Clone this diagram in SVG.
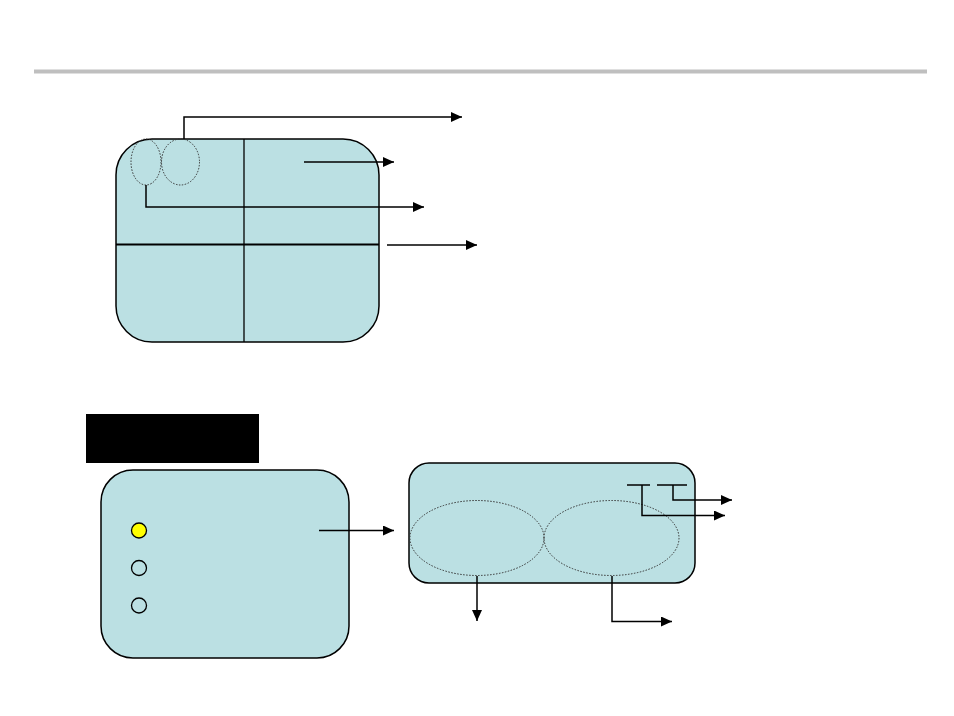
<svg xmlns="http://www.w3.org/2000/svg" width="954" height="716" viewBox="0 0 954 716">
<style>
.box{fill:#bbe0e3;stroke:#000;stroke-width:1.5}
.ell{fill:none;stroke:#333;stroke-width:1;stroke-dasharray:1.5 1.5}
.con{fill:none;stroke:#000;stroke-width:1.5}
.dot{stroke:#000;stroke-width:1.3}
</style>
<defs>
<marker id="ah" markerUnits="userSpaceOnUse" markerWidth="12" markerHeight="10" viewBox="0 0 12 10" refX="11" refY="5" orient="auto">
<path d="M0,0 L11,5 L0,10 Z" fill="#000"/>
</marker>
</defs>
<rect width="954" height="716" fill="#fff"/>
<line x1="34" y1="71.5" x2="927" y2="71.5" stroke="#bfbfbf" stroke-width="4"/>
<g id="screen-top">
<rect class="box" x="116" y="139" width="263" height="203" rx="36" ry="36"/>
<line x1="244" y1="139" x2="244" y2="342" stroke="#000" stroke-width="1.3"/>
<line x1="116" y1="244.5" x2="379" y2="244.5" stroke="#000" stroke-width="2"/>
<ellipse class="ell" cx="146" cy="162" rx="15" ry="23"/>
<ellipse class="ell" cx="180.5" cy="162" rx="19" ry="23"/>
</g>
<g id="black-label">
<rect x="86" y="414" width="173" height="49" fill="#000"/>
</g>
<g id="panel-left">
<rect class="box" x="101" y="470" width="248" height="188" rx="32" ry="32"/>
<circle class="dot" cx="139" cy="530.5" r="7.5" fill="#ffff00"/>
<circle class="dot" cx="139" cy="568" r="7.5" fill="none"/>
<circle class="dot" cx="139" cy="605.5" r="7.5" fill="none"/>
</g>
<g id="panel-right">
<rect class="box" x="409" y="463" width="286" height="120" rx="20" ry="20"/>
<ellipse class="ell" cx="477" cy="538" rx="67" ry="37.5"/>
<ellipse class="ell" cx="611.5" cy="538" rx="67.5" ry="37.5"/>
<line x1="627" y1="485" x2="650" y2="485" stroke="#000" stroke-width="1.5"/>
<line x1="657" y1="485" x2="687" y2="485" stroke="#000" stroke-width="1.5"/>
</g>
<g id="connectors">
<path class="con" d="M184,139 V117 H462" marker-end="url(#ah)"/>
<path class="con" d="M304,162 H394" marker-end="url(#ah)"/>
<path class="con" d="M146,185 V207 H424" marker-end="url(#ah)"/>
<path class="con" d="M387,245 H477" marker-end="url(#ah)"/>
<path class="con" d="M319,530.5 H394" marker-end="url(#ah)"/>
<path class="con" d="M477,576 V621" stroke="#444" marker-end="url(#ah)"/>
<path class="con" d="M612,576 V621.5 H672" marker-end="url(#ah)"/>
<path class="con" d="M642,485 V515.5 H725" marker-end="url(#ah)"/>
<path class="con" d="M673,485 V500 H732" marker-end="url(#ah)"/>
</g>
</svg>
